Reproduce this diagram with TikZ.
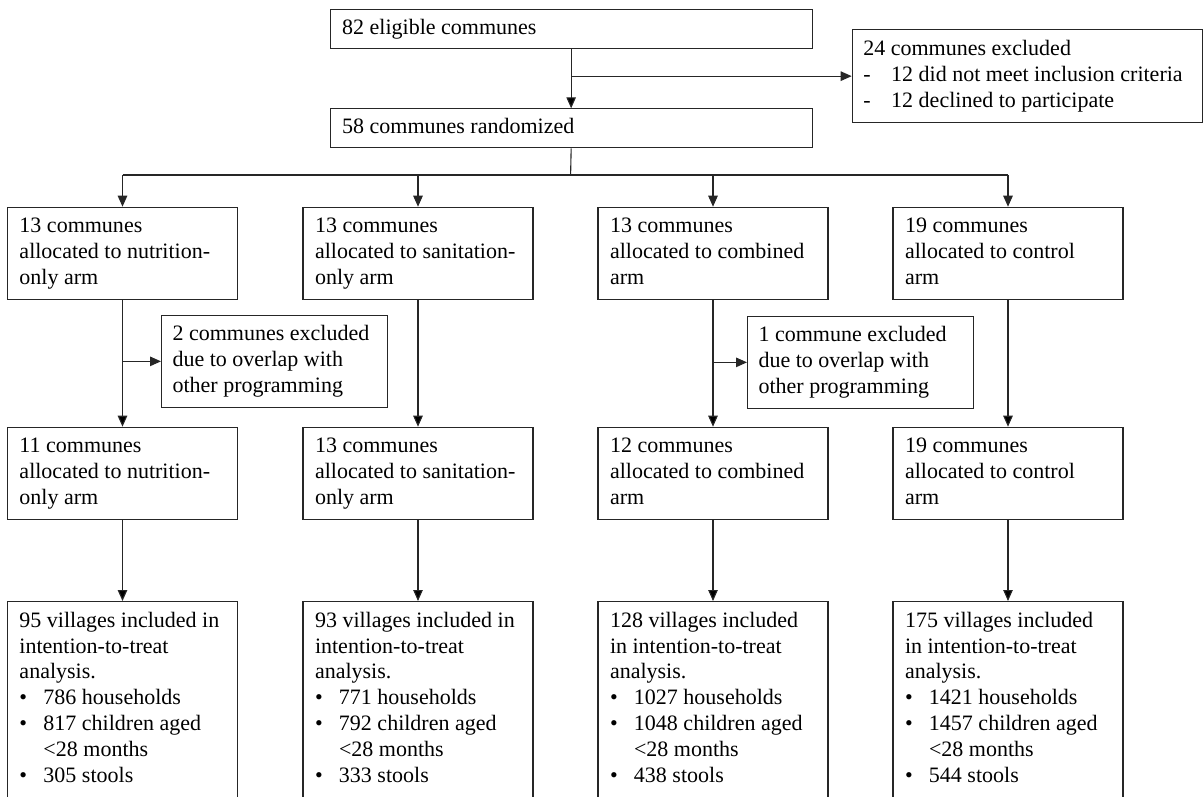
\documentclass[tikz,border=0pt]{standalone}
\usepackage{fontspec}
\setmainfont{Liberation Serif}
\usepackage{tikz}
\usetikzlibrary{positioning,calc}
\usetikzlibrary{arrows.meta,shapes}
\tikzstyle{block} = [rectangle,draw=black!85,line width=1.1pt,align=flush left,anchor=north,inner xsep=12pt,inner ysep=7.6pt,text width=206pt,font=\fontsize{22}{25.8}\selectfont,execute at begin node={\spaceskip=0pt\xspaceskip=0pt\strut},execute at end node=\strut]
\tikzstyle{wideblock} = [block,anchor=north west,text width=458pt,inner ysep=6.6pt]
\tikzstyle{sideblock} = [block,anchor=north west,text width=204pt]
\tikzstyle{line} = [-{Triangle[length=11pt,width=9.5pt]},line width=1.1pt,draw=black!85]
\newcommand{\bulitem}[1]{\makebox[24pt][l]{\textbullet}#1}
\newcommand{\dashitem}[1]{\makebox[28pt][l]{-}#1}

\begin{document}
\begin{tikzpicture}[x=1pt,y=-1pt]
        \useasboundingbox (0,0) rectangle (1204,796);
        \clip (0,0) rectangle (1204,796);
        % enrolment
        \node[wideblock] (elig) at (329.6,9.3) {82 eligible communes};
        \path[line] node[wideblock] (rand) at (329.6,108.3) {58 communes randomized}
        (elig) edge (rand);
        \node[sideblock,text width=328pt,inner xsep=11pt] (excl) at (851.7,29.3) {24 communes excluded\\
        \dashitem{12 did not meet inclusion criteria}\\
        \dashitem{12 declined to participate}};
        \draw[line] (elig.south |- excl.west) -- (excl.west);
        \coordinate (split) at (570.6,175);
        \draw[line width=1.1pt,draw=black!85] (rand.south) -- (split);
        % allocation
        \node[block] (nut1) at (122.5,206.7) {13 communes\\allocated to nutrition-\\only arm};
        \node[block] (san1) at (418,206.7) {13 communes\\allocated to sanitation-\\only arm};
        \node[block] (com1) at (713,206.7) {13 communes\\allocated to combined\\arm};
        \node[block] (con1) at (1008,206.7) {19 communes\\allocated to control\\arm};
        \draw[line width=1.1pt,draw=black!85] (nut1.north |- split) -- (con1.north |- split);
        \draw[line] (nut1.north |- split) -- (nut1.north);
        \draw[line] (san1.north |- split) -- (san1.north);
        \draw[line] (com1.north |- split) -- (com1.north);
        \draw[line] (con1.north |- split) -- (con1.north);
        % exclusions after allocation
        \node[sideblock,inner xsep=11pt] (nutx) at (161,314.5) {2 communes excluded\\due to overlap with\\other programming};
        \node[sideblock,inner xsep=11pt] (comx) at (747,315.5) {1 commune excluded\\due to overlap with\\other programming};
        \draw[line] (nut1.south |- nutx.west) -- (nutx.west);
        \draw[line] (com1.south |- comx.west) -- (comx.west);
        \path[line] node[block] (nut2) at (122.5,426.7) {11 communes\\allocated to nutrition-\\only arm}
        (nut1) edge (nut2);
        \path[line] node[block] (san2) at (418,426.7) {13 communes\\allocated to sanitation-\\only arm}
        (san1) edge (san2);
        \path[line] node[block] (com2) at (713,426.7) {12 communes\\allocated to combined\\arm}
        (com1) edge (com2);
        \path[line] node[block] (con2) at (1008,426.7) {19 communes\\allocated to control\\arm}
        (con1) edge (con2);
        % analysis
        \path[line] node[block] (nut3) at (122.5,601) {95 villages included in\\intention-to-treat\\analysis.\\
        \bulitem{786 households}\\\bulitem{817 children aged}\\\hspace*{24pt}<28 months\\\bulitem{305 stools}\\ }
        (nut2) edge (nut3);
        \path[line] node[block] (san3) at (418,601) {93 villages included in\\intention-to-treat\\analysis.\\
        \bulitem{771 households}\\\bulitem{792 children aged}\\\hspace*{24pt}<28 months\\\bulitem{333 stools}\\ }
        (san2) edge (san3);
        \path[line] node[block] (com3) at (713,601) {128 villages included\\in intention-to-treat\\analysis.\\
        \bulitem{1027 households}\\\bulitem{1048 children aged}\\\hspace*{24pt}<28 months\\\bulitem{438 stools}\\ }
        (com2) edge (com3);
        \path[line] node[block] (con3) at (1008,601) {175 villages included\\in intention-to-treat\\analysis.\\
        \bulitem{1421 households}\\\bulitem{1457 children aged}\\\hspace*{24pt}<28 months\\\bulitem{544 stools}\\ }
        (con2) edge (con3);
    \end{tikzpicture}
\end{document}
